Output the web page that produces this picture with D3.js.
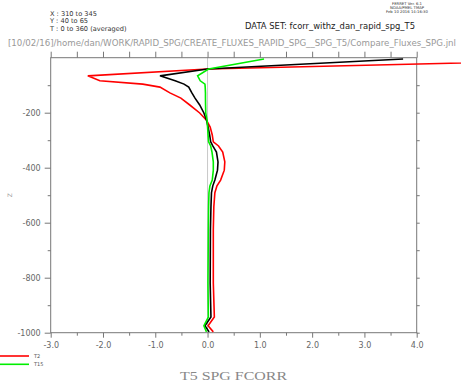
<!DOCTYPE html>
<html><head><meta charset="utf-8">
<script src="https://cdn.jsdelivr.net/npm/d3@7/dist/d3.min.js"></script>
<style>body{margin:0;background:#fff}svg{display:block}</style>
</head><body>
<svg id="c" width="461" height="382"></svg>
<script>
// depth levels (m)
const depths = [-5,-41,-66,-84,-96,-107,-128,-147,-172,-201,-227,-252,-281,-306,-321,-343,-379,-409,-445,-466,-491,-542,-625,-819,-943,-975,-997];
const seriesT2  = [8.1,0.0,-2.29,-2.06,-1.24,-0.91,-0.72,-0.51,-0.34,-0.15,-0.02,0.05,0.09,0.11,0.21,0.29,0.33,0.32,0.25,0.18,0.14,0.12,0.11,0.11,0.13,0.01,0.11];
const seriesT5  = [3.74,0.0,-0.91,-0.62,-0.45,-0.36,-0.30,-0.24,-0.15,-0.07,-0.02,0.01,0.04,0.06,0.10,0.17,0.20,0.19,0.14,0.10,0.075,0.065,0.055,0.05,0.065,-0.05,0.03];
const seriesT15 = [1.08,0.02,-0.19,-0.14,-0.05,-0.045,-0.04,-0.04,-0.038,-0.035,-0.01,0.0,0.01,0.02,0.06,0.085,0.11,0.11,0.09,0.045,0.027,0.02,0.015,0.008,0.015,-0.07,-0.02];
const xMajor = [-3,-2,-1,0,1,2,3,4];
const xMinor = [-2.5,-1.5,-0.5,0.5,1.5,2.5,3.5];
const yMajor = [-200,-400,-600,-800,-1000];
const yMinor = [-100,-300,-500,-700,-900];
const headerLines = ["X : 310 to 345","Y : 40 to 65","T : 0 to 360 (averaged)"];
const pathText = "[10/02/16]/home/dan/WORK/RAPID_SPG/CREATE_FLUXES_RAPID_SPG__SPG_T5/Compare_Fluxes_SPG.jnl";
const datasetText = "DATA SET: fcorr_withz_dan_rapid_spg_T5";
const ferretLines = ["FERRET Ver. 6.1","NOAA/PMEL TMAP","Feb 10 2016 14:16:30"];
const legendNames = ["T2","T15"];
const titleText = "T5 SPG FCORR";

const svg = d3.select("#c");
const x = d3.scaleLinear().domain([-3,4]).range([50.7,416.7]);
const y = d3.scaleLinear().domain([0,-1000]).range([57.7,332.7]);
const axisCol = "#777", txtCol = "#666";
const font = "'DejaVu Sans', sans-serif";

// zero line
svg.append("line").attr("x1",x(0)).attr("x2",x(0)).attr("y1",y(0)).attr("y2",y(-1000))
  .attr("stroke","#c8c8c8").attr("stroke-width",1);

// frame
svg.append("rect").attr("x",x(-3)).attr("y",y(0)).attr("width",x(4)-x(-3)).attr("height",y(-1000)-y(0))
  .attr("fill","none").attr("stroke",axisCol).attr("stroke-width",1);

function styleAxis(g){
  g.select(".domain").remove();
  g.selectAll(".tick line").attr("stroke",axisCol);
  g.selectAll("text").attr("fill",txtCol).attr("font-family",font).attr("font-size",8);
}
const fmtX = d => d3.format(".1f")(d).replace("−","-");
// bottom
svg.append("g").attr("transform",`translate(0,${y(-1000)})`)
  .call(d3.axisBottom(x).tickValues(xMajor).tickSize(5).tickPadding(5).tickFormat(fmtX)).call(styleAxis);
svg.append("g").attr("transform",`translate(0,${y(-1000)})`)
  .call(d3.axisBottom(x).tickValues(xMinor).tickSize(3).tickFormat("")).call(styleAxis);
// top
svg.append("g").attr("transform",`translate(0,${y(0)})`)
  .call(d3.axisTop(x).tickValues(xMajor.concat(xMinor)).tickSize(6).tickFormat("")).call(styleAxis);
// left
svg.append("g").attr("transform",`translate(${x(-3)},0)`)
  .call(d3.axisLeft(y).tickValues(yMajor).tickSize(6).tickPadding(4).tickFormat(d=>String(d).replace("−","-"))).call(styleAxis);
svg.append("g").attr("transform",`translate(${x(-3)},0)`)
  .call(d3.axisLeft(y).tickValues(yMinor).tickSize(3).tickFormat("")).call(styleAxis);
// right
svg.append("g").attr("transform",`translate(${x(4)},0)`)
  .call(d3.axisRight(y).tickValues(yMajor.concat(yMinor)).tickSize(3).tickFormat("")).call(styleAxis);

// Z label
svg.append("text").attr("transform",`translate(12,${y(-500)}) rotate(-90)`)
  .attr("text-anchor","middle").attr("font-family",font).attr("font-size",6).attr("fill","#999").text("Z");

// curves
const line = d3.line().x(d=>x(d[0])).y(d=>y(d[1]));
const series = [
  {vals:seriesT2, col:"#ff0000"},
  {vals:seriesT5, col:"#000000"},
  {vals:seriesT15, col:"#00ee00"}
];
series.forEach(s=>{
  svg.append("path").datum(s.vals.map((v,i)=>[v,depths[i]]))
    .attr("d",line).attr("fill","none").attr("stroke",s.col).attr("stroke-width",1.6)
    .attr("stroke-linejoin","miter");
});

// header
headerLines.forEach((t,i)=>{
  svg.append("text").attr("x",50).attr("y",16+i*7.3).attr("font-family",font).attr("font-size",6.6)
    .attr("fill","#333").text(t);
});
svg.append("text").attr("x",8).attr("y",46).attr("font-family",font).attr("font-size",8.6)
  .attr("fill","#999").attr("textLength",448).attr("lengthAdjust","spacingAndGlyphs").text(pathText);
svg.append("text").attr("x",245).attr("y",28.5).attr("font-family",font).attr("font-size",8.5)
  .attr("fill","#222").attr("textLength",170).attr("lengthAdjust","spacingAndGlyphs").text(datasetText);
ferretLines.forEach((t,i)=>{
  svg.append("text").attr("x",407).attr("y",4.5+i*4).attr("text-anchor","middle")
    .attr("font-family",font).attr("font-size",3.8).attr("fill","#333").text(t);
});

// legend
const legCols = ["#ff0000","#00ee00"];
legendNames.forEach((n,i)=>{
  const ly = 356 + i*8.3;
  svg.append("line").attr("x1",0).attr("x2",29).attr("y1",ly).attr("y2",ly)
    .attr("stroke",legCols[i]).attr("stroke-width",1.6);
  svg.append("text").attr("x",34).attr("y",ly+2).attr("font-family",font).attr("font-size",5)
    .attr("fill","#555").text(n);
});

// title
svg.append("text").attr("x",180).attr("y",380).attr("font-family","'Liberation Serif', 'DejaVu Serif', serif")
  .attr("font-size",13).attr("fill","#888").attr("textLength",107).attr("lengthAdjust","spacingAndGlyphs").text(titleText);
</script>
</body></html>
